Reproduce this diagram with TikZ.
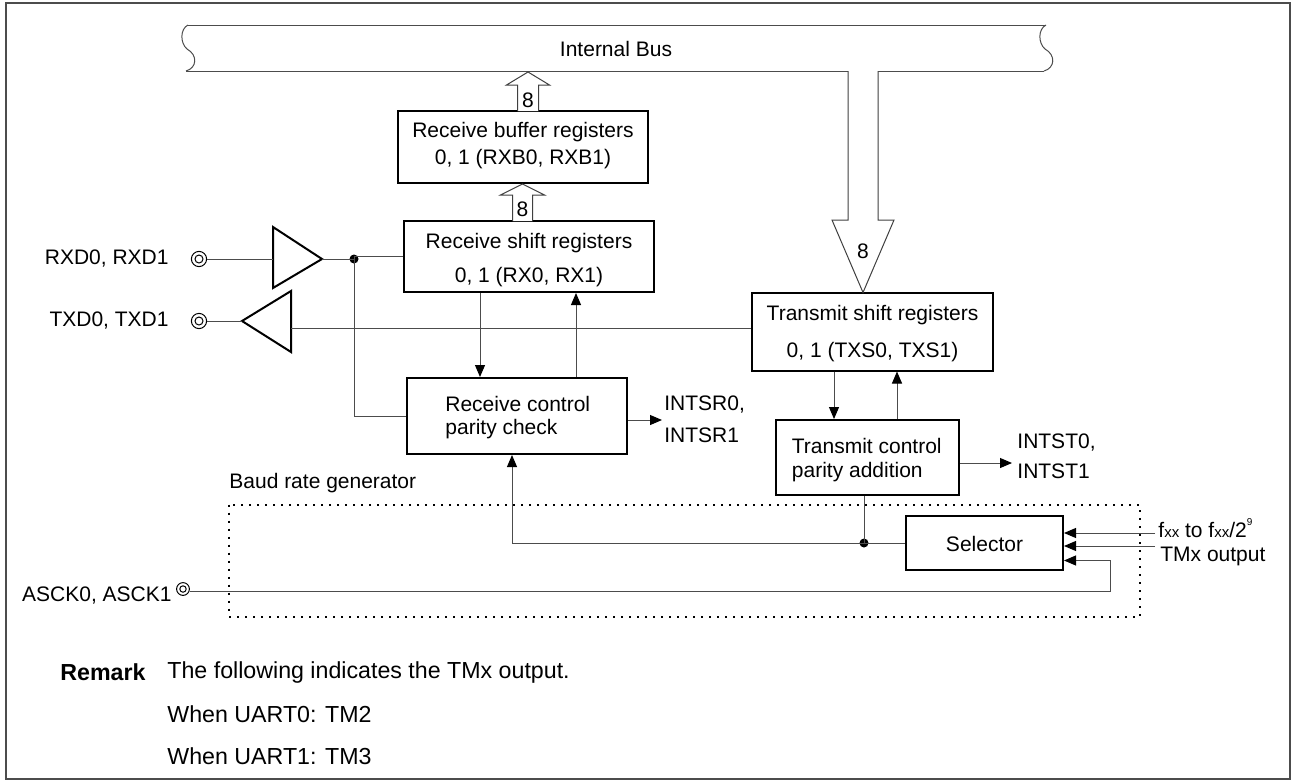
\documentclass[tikz,border=0pt]{standalone}
\usepackage{fontspec}
\setmainfont{Liberation Sans}
\usetikzlibrary{arrows.meta}
\begin{document}
\begin{tikzpicture}[x=0.5pt,y=-0.5pt,
  font=\fontsize{10.5}{12}\selectfont,
  box/.style={draw=black, line width=1pt, inner sep=0pt},
  wire/.style={draw=black!70, line width=0.5pt},
  arr/.style={wire, -{Triangle[length=6pt,width=5pt,color=black]}},
  fat/.style={draw=black!75, line width=0.5pt, fill=white},
  txt/.style={inner sep=0pt, anchor=center},
  ltxt/.style={inner sep=0pt, anchor=west},
  rtxt/.style={inner sep=0pt, anchor=east},
  remtxt/.style={inner sep=0pt, anchor=west, font=\fontsize{11.6}{13}\selectfont},
  dot/.style={circle, fill=black, inner sep=0pt, minimum size=4.5pt},
  term/.style={circle, draw=black, line width=0.5pt, inner sep=0pt, minimum size=7.6pt},
  termin/.style={circle, draw=black, line width=0.5pt, inner sep=0pt, minimum size=4pt},
  buf/.style={draw=black, line width=1pt, line join=miter},
]
\useasboundingbox (0,0) rectangle (1295,782);
\draw[line width=0.8pt, black!70] (6,3) rectangle (1290,779);

% ---------------- Internal bus ----------------
\draw[wire] (188,25) .. controls (180,29) and (180,43) .. (187,49) .. controls (198,55) and (197,68) .. (186,71);
\draw[wire] (1046,25) .. controls (1038,29) and (1038,43) .. (1045,49) .. controls (1056,55) and (1055,68) .. (1044,71);
\draw[wire] (188,25) -- (1046,25);
\draw[wire] (186,71) -- (848,71);
\draw[wire] (878,71) -- (1044,71);
\node[txt] (busl) at (616,49) {Internal Bus};

% ---------------- boxes ----------------
\node[box, minimum width=125pt, minimum height=36pt] (rxb) at (523,147) {};
\node[txt] (rxbt1) at (523,131.7) {Receive buffer registers};
\node[txt] (rxbt2) at (523,159.3) {0, 1 (RXB0, RXB1)};

\node[box, minimum width=125pt, minimum height=35.5pt] (rxs) at (529,256.5) {};
\node[txt] (rxst1) at (529,243.3) {Receive shift registers};
\node[txt] (rxst2) at (529,276.7) {0, 1 (RX0, RX1)};

\node[box, minimum width=110pt, minimum height=38pt] (rxc) at (517,416) {};
\node[ltxt] (rxct1) at (445,404) {Receive control};
\node[ltxt] (rxct2) at (445,429) {parity check};

\node[box, minimum width=120.5pt, minimum height=39pt] (txs) at (872.5,331.5) {};
\node[txt] (txst1) at (872.5,315.5) {Transmit shift registers};
\node[txt] (txst2) at (872.5,352.5) {0, 1 (TXS0, TXS1)};

\node[box, minimum width=91.5pt, minimum height=37.5pt] (txc) at (867.5,457.5) {};
\node[ltxt] (txct1) at (791.5,445.7) {Transmit control};
\node[ltxt] (txct2) at (791.5,471.7) {parity addition};

\node[box, minimum width=78.5pt, minimum height=27pt] (sel) at (984.5,543) {};
\node[txt] (selt) at (984.5,543.5) {Selector};

% ---------------- fat bus arrows ----------------
\draw[fat] (517.5,111) -- (517.5,85) -- (506.5,85) -- (528,72) -- (549.5,85) -- (538.5,85) -- (538.5,111);
\node[txt] (n8a) at (528,100) {8};
\draw[fat] (512.5,221) -- (512.5,195) -- (500.5,195) -- (522.5,184) -- (544.5,195) -- (532.5,195) -- (532.5,221);
\node[txt] (n8b) at (522.5,209) {8};
\draw[fat] (848,71) -- (848,220) -- (832,220) -- (863,292.5) -- (894,220) -- (878,220) -- (878,71);
\node[txt] (n8c) at (863,251) {8};

% ---------------- RXD / TXD ----------------
\node[rtxt] (rxdl) at (169,259) {RXD0, RXD1};
\node[term] (rxdp) at (199,259) {};
\node[termin] (rxdpi) at (199,259) {};
\coordinate (rbin) at (273,259);
\coordinate (rbout) at (322,259);
\draw[buf] (273,227) -- (322,259) -- (273,288) -- cycle;
\draw[wire] (rxdp.east) -- (rbin);
\node[dot] (j1) at (354,259) {};
\draw[wire] (rbout) -- (j1.center) -- (j1.center |- rxs.west) -- (rxs.west);
\coordinate (j1d) at (354,416);
\draw[wire] (j1.center) -- (j1d) -- (j1d -| rxc.west);

\node[rtxt] (txdl) at (169,321) {TXD0, TXD1};
\node[term] (txdp) at (199,321) {};
\node[termin] (txdpi) at (199,321) {};
\coordinate (tbtip) at (242,321);
\coordinate (tbin) at (291,328);
\draw[buf] (291,291) -- (242,321) -- (291,352) -- cycle;
\draw[wire] (txdp.east) -- (tbtip);
\draw[wire] (txs.west |- tbin) -- (tbin);

% ---------------- receive side connectors ----------------
\coordinate (c480) at (480,0);
\coordinate (c576) at (576,0);
\draw[arr] (rxs.south -| c480) -- (rxc.north -| c480);
\draw[arr] (rxc.north -| c576) -- (rxs.south -| c576);
\coordinate (isr) at (662,420);
\draw[arr] (rxc.east |- isr) -- (isr);
\node[ltxt] (isr0) at (664,405) {INTSR0,};
\node[ltxt] (isr1) at (664,435) {INTSR1};

% ---------------- transmit side connectors ----------------
\coordinate (c834) at (834,0);
\coordinate (c897) at (897,0);
\draw[arr] (txs.south -| c834) -- (txc.north -| c834);
\draw[arr] (txc.north -| c897) -- (txs.south -| c897);
\coordinate (ist) at (1012,463);
\draw[arr] (txc.east |- ist) -- (ist);
\node[ltxt] (ist0) at (1017,443) {INTST0,};
\node[ltxt] (ist1) at (1017,471) {INTST1};

% ---------------- baud rate generator ----------------
\node[ltxt] (brgl) at (229,483) {Baud rate generator};
\draw[line width=1pt, dash pattern=on 1pt off 3pt] (229,504.5) rectangle (1140,616.5);

\node[dot] (j2) at (864,543) {};
\coordinate (c864) at (864,0);
\draw[wire] (txc.south -| c864) -- (j2.center);
\draw[wire] (j2.center) -- (sel.west |- j2);
\coordinate (c512) at (512,543);
\draw[arr] (j2.center) -- (c512) -- (c512 |- rxc.south);

% selector inputs
\coordinate (fin) at (1155,533);
\coordinate (tin) at (1155,546);
\draw[arr] (fin) -- (fin -| sel.east);
\draw[arr] (tin) -- (tin -| sel.east);
\node[ltxt] (fl) at (1158,528) {f{\fontsize{7.5}{8}\selectfont xx} to f{\fontsize{7.5}{8}\selectfont xx}/2\raisebox{1.1ex}{\fontsize{5}{5}\selectfont 9}};
\node[ltxt] (tl) at (1160,556) {TMx output};

\node[rtxt] (ascl) at (172,596) {ASCK0, ASCK1};
\node[term, minimum size=6.4pt] (ascp) at (183,589) {};
\node[termin, minimum size=3.2pt] (ascpi) at (183,589) {};
\coordinate (ac1) at (1110,591);
\coordinate (ac2) at (1110,560.5);
\draw[arr] (ascp.east |- ac1) -- (ac1) -- (ac2) -- (ac2 -| sel.east);

% ---------------- remark ----------------
\node[remtxt, font=\fontsize{11.6}{13}\selectfont\bfseries] (rem) at (60,672) {Remark};
\node[remtxt] (rem1) at (167,672) {The following indicates the TMx output.};
\node[remtxt] (rem2) at (167,714) {When UART0: TM2};
\node[remtxt] (rem3) at (167,756) {When UART1: TM3};
\end{tikzpicture}
\end{document}
